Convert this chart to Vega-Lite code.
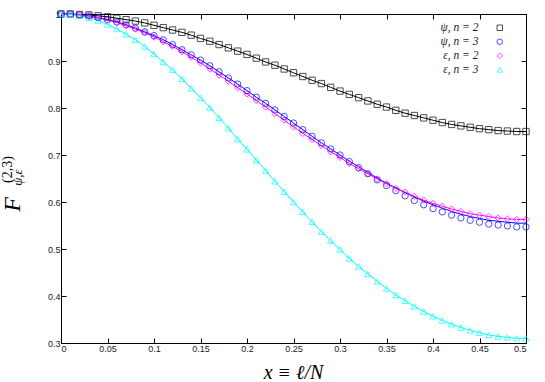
{
  "$schema": "https://vega.github.io/schema/vega-lite/v6.json",
  "width": 465,
  "height": 329,
  "autosize": {"type": "none"},
  "padding": {"left": 61, "top": 14, "right": 19, "bottom": 39},
  "background": "white",
  "config": {
    "view": {"stroke": "black", "strokeWidth": 1},
    "axis": {
      "grid": false,
      "domain": false,
      "tickColor": "black",
      "tickSize": -5,
      "tickWidth": 1,
      "labelFont": "Liberation Sans",
      "labelFontSize": 9,
      "labelColor": "#222222",
      "titleFont": "Liberation Serif",
      "titleFontStyle": "italic",
      "titleFontWeight": "normal",
      "titleColor": "black"
    }
  },
  "data": {
    "values": [
      {"x": 0.00, "A": 1.000, "B": 1.000, "Bp": 1.000, "C": 1.000, "D": 1.000},
      {"x": 0.01, "A": 1.000, "B": 1.000, "Bp": 1.000, "C": 0.999, "D": 0.999},
      {"x": 0.02, "A": 0.999, "B": 0.998, "Bp": 0.998, "C": 0.998, "D": 0.996},
      {"x": 0.03, "A": 0.998, "B": 0.996, "Bp": 0.996, "C": 0.995, "D": 0.992},
      {"x": 0.04, "A": 0.996, "B": 0.992, "Bp": 0.992, "C": 0.992, "D": 0.986},
      {"x": 0.05, "A": 0.994, "B": 0.988, "Bp": 0.988, "C": 0.987, "D": 0.978},
      {"x": 0.06, "A": 0.991, "B": 0.983, "Bp": 0.983, "C": 0.982, "D": 0.968},
      {"x": 0.07, "A": 0.988, "B": 0.977, "Bp": 0.977, "C": 0.975, "D": 0.957},
      {"x": 0.08, "A": 0.985, "B": 0.970, "Bp": 0.970, "C": 0.968, "D": 0.945},
      {"x": 0.09, "A": 0.981, "B": 0.962, "Bp": 0.962, "C": 0.960, "D": 0.931},
      {"x": 0.10, "A": 0.976, "B": 0.954, "Bp": 0.954, "C": 0.951, "D": 0.915},
      {"x": 0.11, "A": 0.971, "B": 0.945, "Bp": 0.945, "C": 0.941, "D": 0.898},
      {"x": 0.12, "A": 0.966, "B": 0.935, "Bp": 0.935, "C": 0.931, "D": 0.881},
      {"x": 0.13, "A": 0.961, "B": 0.924, "Bp": 0.924, "C": 0.920, "D": 0.862},
      {"x": 0.14, "A": 0.955, "B": 0.913, "Bp": 0.913, "C": 0.908, "D": 0.842},
      {"x": 0.15, "A": 0.948, "B": 0.902, "Bp": 0.902, "C": 0.896, "D": 0.822},
      {"x": 0.16, "A": 0.942, "B": 0.890, "Bp": 0.890, "C": 0.883, "D": 0.801},
      {"x": 0.17, "A": 0.935, "B": 0.877, "Bp": 0.877, "C": 0.870, "D": 0.779},
      {"x": 0.18, "A": 0.928, "B": 0.864, "Bp": 0.864, "C": 0.857, "D": 0.757},
      {"x": 0.19, "A": 0.921, "B": 0.851, "Bp": 0.851, "C": 0.843, "D": 0.734},
      {"x": 0.20, "A": 0.914, "B": 0.837, "Bp": 0.837, "C": 0.830, "D": 0.712},
      {"x": 0.21, "A": 0.906, "B": 0.823, "Bp": 0.823, "C": 0.816, "D": 0.689},
      {"x": 0.22, "A": 0.898, "B": 0.810, "Bp": 0.810, "C": 0.802, "D": 0.667},
      {"x": 0.23, "A": 0.891, "B": 0.796, "Bp": 0.796, "C": 0.788, "D": 0.644},
      {"x": 0.24, "A": 0.883, "B": 0.782, "Bp": 0.782, "C": 0.774, "D": 0.622},
      {"x": 0.25, "A": 0.875, "B": 0.768, "Bp": 0.768, "C": 0.760, "D": 0.600},
      {"x": 0.26, "A": 0.867, "B": 0.754, "Bp": 0.754, "C": 0.746, "D": 0.579},
      {"x": 0.27, "A": 0.859, "B": 0.740, "Bp": 0.740, "C": 0.733, "D": 0.558},
      {"x": 0.28, "A": 0.852, "B": 0.726, "Bp": 0.726, "C": 0.720, "D": 0.537},
      {"x": 0.29, "A": 0.844, "B": 0.713, "Bp": 0.713, "C": 0.707, "D": 0.518},
      {"x": 0.30, "A": 0.836, "B": 0.700, "Bp": 0.700, "C": 0.695, "D": 0.499},
      {"x": 0.31, "A": 0.829, "B": 0.687, "Bp": 0.686, "C": 0.682, "D": 0.480},
      {"x": 0.32, "A": 0.822, "B": 0.675, "Bp": 0.673, "C": 0.671, "D": 0.463},
      {"x": 0.33, "A": 0.815, "B": 0.663, "Bp": 0.660, "C": 0.660, "D": 0.447},
      {"x": 0.34, "A": 0.808, "B": 0.651, "Bp": 0.647, "C": 0.649, "D": 0.431},
      {"x": 0.35, "A": 0.802, "B": 0.640, "Bp": 0.635, "C": 0.639, "D": 0.416},
      {"x": 0.36, "A": 0.795, "B": 0.630, "Bp": 0.624, "C": 0.629, "D": 0.402},
      {"x": 0.37, "A": 0.789, "B": 0.620, "Bp": 0.613, "C": 0.621, "D": 0.390},
      {"x": 0.38, "A": 0.784, "B": 0.611, "Bp": 0.603, "C": 0.612, "D": 0.378},
      {"x": 0.39, "A": 0.779, "B": 0.602, "Bp": 0.594, "C": 0.604, "D": 0.367},
      {"x": 0.40, "A": 0.774, "B": 0.594, "Bp": 0.586, "C": 0.597, "D": 0.357},
      {"x": 0.41, "A": 0.769, "B": 0.587, "Bp": 0.579, "C": 0.591, "D": 0.348},
      {"x": 0.42, "A": 0.765, "B": 0.580, "Bp": 0.572, "C": 0.585, "D": 0.340},
      {"x": 0.43, "A": 0.762, "B": 0.574, "Bp": 0.566, "C": 0.580, "D": 0.333},
      {"x": 0.44, "A": 0.759, "B": 0.569, "Bp": 0.561, "C": 0.575, "D": 0.327},
      {"x": 0.45, "A": 0.756, "B": 0.565, "Bp": 0.557, "C": 0.572, "D": 0.322},
      {"x": 0.46, "A": 0.754, "B": 0.561, "Bp": 0.553, "C": 0.569, "D": 0.317},
      {"x": 0.47, "A": 0.752, "B": 0.559, "Bp": 0.551, "C": 0.566, "D": 0.314},
      {"x": 0.48, "A": 0.751, "B": 0.557, "Bp": 0.549, "C": 0.564, "D": 0.312},
      {"x": 0.49, "A": 0.750, "B": 0.555, "Bp": 0.547, "C": 0.563, "D": 0.310},
      {"x": 0.50, "A": 0.750, "B": 0.555, "Bp": 0.547, "C": 0.563, "D": 0.310}
    ]
  },
  "layer": [
    {
      "transform": [{"fold": ["A", "B", "C", "D"], "as": ["s", "v"]}],
      "mark": {"type": "line", "strokeWidth": 1},
      "encoding": {
        "x": {
          "field": "x", "type": "quantitative",
          "scale": {"domain": [0, 0.5], "nice": false, "zero": false},
          "axis": {
            "orient": "top", "labels": false,
            "values": [0, 0.05, 0.1, 0.15, 0.2, 0.25, 0.3, 0.35, 0.4, 0.45, 0.5],
            "title": "(2,3)", "titleFontStyle": "normal", "titleFontSize": 14,
            "titleAngle": 270, "titleX": -50, "titleY": 155,
            "titleAlign": "center", "titleBaseline": "alphabetic"
          }
        },
        "y": {
          "field": "v", "type": "quantitative",
          "scale": {"domain": [0.3, 1], "nice": false, "zero": false},
          "axis": {
            "orient": "right", "labels": false,
            "values": [0.3, 0.4, 0.5, 0.6, 0.7, 0.8, 0.9, 1],
            "title": "ψ,ε", "titleFontSize": 13,
            "titleAngle": 270, "titleX": -505, "titleY": 163,
            "titleAlign": "center", "titleBaseline": "alphabetic"
          }
        },
        "stroke": {
          "field": "s", "type": "nominal",
          "scale": {"domain": ["A", "B", "C", "D"], "range": ["#000000", "#0000ff", "#ff00ff", "#00ffff"]},
          "legend": null
        }
      }
    },
    {
      "transform": [{"fold": ["A", "Bp", "C", "D"], "as": ["s", "v"]}],
      "mark": {"type": "point", "filled": false, "strokeWidth": 1, "size": 40},
      "encoding": {
        "x": {
          "field": "x", "type": "quantitative",
          "scale": {"domain": [0, 0.5], "nice": false, "zero": false},
          "axis": {
            "orient": "bottom",
            "values": [0, 0.05, 0.1, 0.15, 0.2, 0.25, 0.3, 0.35, 0.4, 0.45, 0.5],
            "format": "~g", "labelPadding": 6,
            "title": "x ≡ ℓ/N", "titleFontSize": 20,
            "titleX": 232, "titleY": 35,
            "titleAlign": "center", "titleBaseline": "alphabetic"
          }
        },
        "y": {
          "field": "v", "type": "quantitative",
          "scale": {"domain": [0.3, 1], "nice": false, "zero": false},
          "axis": {
            "orient": "left",
            "values": [0.3, 0.4, 0.5, 0.6, 0.7, 0.8, 0.9, 1],
            "format": "~g", "labelPadding": 6,
            "title": "F", "titleFontSize": 24,
            "titleAngle": 270, "titleX": -42, "titleY": 190,
            "titleAlign": "center", "titleBaseline": "alphabetic"
          }
        },
        "color": {
          "field": "s", "type": "nominal",
          "scale": {"domain": ["A", "Bp", "C", "D"], "range": ["#000000", "#0000ff", "#ff00ff", "#00ffff"]},
          "legend": {
            "orient": "none", "legendX": 433, "legendY": 8,
            "title": null, "padding": 0, "rowPadding": 1,
            "symbolSize": 30, "symbolStrokeWidth": 1, "symbolFillColor": "transparent",
            "labelFont": "Liberation Serif", "labelFontStyle": "italic", "labelFontSize": 11.5,
            "labelColor": "#222222", "labelAlign": "right", "labelOffset": -27,
            "labelExpr": "datum.label == 'A' ? 'ψ, n = 2' : datum.label == 'Bp' ? 'ψ, n = 3' : datum.label == 'C' ? 'ε, n = 2' : 'ε, n = 3'"
          }
        },
        "shape": {
          "field": "s", "type": "nominal",
          "scale": {"domain": ["A", "Bp", "C", "D"], "range": ["square", "circle", "diamond", "triangle-up"]},
          "legend": {
            "orient": "none", "legendX": 433, "legendY": 8,
            "title": null, "padding": 0, "rowPadding": 1,
            "symbolSize": 30, "symbolStrokeWidth": 1, "symbolFillColor": "transparent",
            "labelFont": "Liberation Serif", "labelFontStyle": "italic", "labelFontSize": 11.5,
            "labelColor": "#222222", "labelAlign": "right", "labelOffset": -27,
            "labelExpr": "datum.label == 'A' ? 'ψ, n = 2' : datum.label == 'Bp' ? 'ψ, n = 3' : datum.label == 'C' ? 'ε, n = 2' : 'ε, n = 3'"
          }
        }
      }
    }
  ],
  "resolve": {"axis": {"x": "independent", "y": "independent"}}
}
